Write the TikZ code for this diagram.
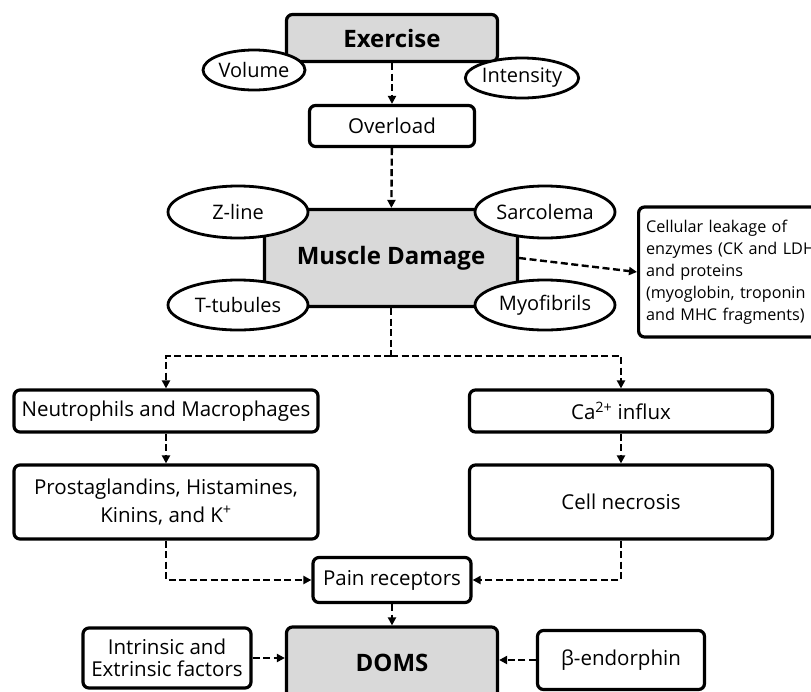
\documentclass[tikz,border=0pt]{standalone}
\usepackage{fontspec}
\setmainfont{Open Sans}
\usetikzlibrary{arrows.meta,shapes.geometric}

\begin{document}
\begin{tikzpicture}[x=1pt,y=-1pt,
    box/.style={draw,line width=3.2pt,rounded corners=6pt,fill=white,inner sep=2pt,align=center,font=\fontsize{20.5}{28}\selectfont},
    keybox/.style={box,fill=gray!30,font=\fontsize{24}{28}\selectfont\bfseries},
    oval/.style={draw,ellipse,line width=2.8pt,fill=white,inner sep=0pt,font=\fontsize{20}{22}\selectfont},
    flow/.style={line width=2.4pt,dash pattern=on 7pt off 3.5pt,-{Triangle[length=8pt,width=8pt]}}]
  \useasboundingbox (0,0) rectangle (811,691);
  % main chain
  \node[keybox,minimum width=211pt,minimum height=47pt] (ex) at (392,38) {Exercise};
  \node[box,minimum width=165pt,minimum height=41pt] (over) at (392,126) {Overload};
  \node[keybox,minimum width=253pt,minimum height=97pt] (md) at (391,258) {Muscle Damage};
  \node[box,anchor=west,minimum width=240pt,minimum height=130pt,text width=225pt,align=left,font=\fontsize{16.2}{22}\selectfont] (leak) at (637,272)
    {Cellular leakage of\\enzymes (CK and LDH)\\and proteins\\(myoglobin, troponin I\\and MHC fragments)};
  % two branches
  \node[box,minimum width=304pt,minimum height=42pt] (neu) at (166,411) {Neutrophils and Macrophages};
  \node[box,minimum width=303pt,minimum height=42pt] (ca) at (621,411) {Ca\textsuperscript{2+} influx};
  \node[box,minimum width=304pt,minimum height=74pt] (pro) at (166,502) {Prostaglandins, Histamines,\\Kinins, and K\textsuperscript{+}};
  \node[box,minimum width=303pt,minimum height=74pt] (nec) at (621,502) {Cell necrosis};
  \node[box,minimum width=158pt,minimum height=45pt] (pain) at (392,580) {Pain receptors};
  \node[keybox,minimum width=211pt,minimum height=72pt] (doms) at (392,663) {DOMS};
  \node[box,minimum width=168pt,minimum height=60pt,font=\fontsize{20.5}{22}\selectfont] (intr) at (167,658) {Intrinsic and\\Extrinsic factors};
  \node[box,minimum width=167pt,minimum height=59pt] (endo) at (621,660) {β-endorphin};
  % ovals
  \node[oval,minimum width=102pt,minimum height=40pt] (vol) at (254,70) {Volume};
  \node[oval,minimum width=111pt,minimum height=40pt] (int) at (522,78) {Intensity};
  \node[oval,minimum width=140pt,minimum height=52pt] (zl) at (238,212) {Z-line};
  \node[oval,minimum width=140pt,minimum height=50pt] (tt) at (238,305) {T-tubules};
  \node[oval,minimum width=140pt,minimum height=52pt] (sar) at (545,212) {Sarcolema};
  \node[oval,minimum width=140pt,minimum height=50pt] (myo) at (545,305) {Myofibrils};
  % connectors
  \coordinate (split) at (391,356);
  \draw[flow] (ex) -- (over);
  \draw[flow] (over) -- (md);
  \draw[flow] (md.east) -- (leak.west);
  \draw[line width=2.4pt,dash pattern=on 7pt off 3.5pt] (md.south) -- (split);
  \draw[flow] (split) -| (neu.north);
  \draw[flow] (split) -| (ca.north);
  \draw[flow] (neu) -- (pro);
  \draw[flow] (ca) -- (nec);
  \draw[flow] (pro.south) |- (pain.west);
  \draw[flow] (nec.south) |- (pain.east);
  \draw[flow] (pain) -- (doms);
  \draw[flow] (intr.east) -- (intr.east -| doms.west);
  \draw[flow] (endo.west) -- (endo.west -| doms.east);
\end{tikzpicture}
\end{document}
